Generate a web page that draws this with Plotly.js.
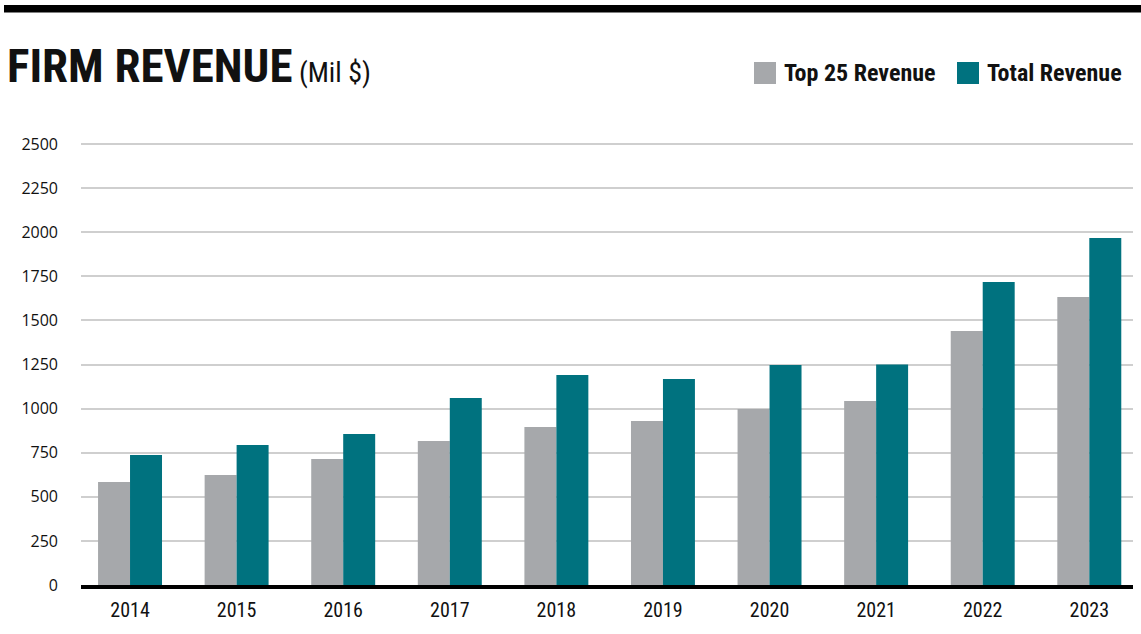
<!DOCTYPE html>
<html>
<head>
<meta charset="utf-8">
<script src="https://cdn.plot.ly/plotly-3.0.1.min.js"></script>
<style>html,body{margin:0;padding:0;background:#fff;}#chart{width:1141px;height:634px;}</style>
</head>
<body>
<div id="chart"></div>
<script>
const years = ["2014","2015","2016","2017","2018","2019","2020","2021","2022","2023"];
const top25Revenue = [584, 624, 714, 816, 896, 930, 998, 1043, 1440, 1633];
const totalRevenue = [737, 794, 856, 1060, 1190, 1168, 1247, 1250, 1718, 1967];
const seriesNames = ["Top 25 Revenue", "Total Revenue"];
const yTicks = [0, 250, 500, 750, 1000, 1250, 1500, 1750, 2000, 2250, 2500];

const GREY = "#a6a8ab";
const TEAL = "#00727f";
const W = 1141, H = 634;
const L = 81, R = 8, T = 142, B = 49;
const pw = W - L - R, ph = H - T - B;
const px = x => (x - L) / pw;
const py = y => (H - B - y) / ph;
const yMax = ph * 2500 / 441;

const cond = "Roboto Condensed, Open Sans, sans-serif";

const traces = [
  {type: "bar", name: seriesNames[0], x: years, y: top25Revenue, marker: {color: GREY}, hoverinfo: "x+y"},
  {type: "bar", name: seriesNames[1], x: years, y: totalRevenue, marker: {color: TEAL}, hoverinfo: "x+y"}
];

const layout = {
  width: W, height: H,
  margin: {l: L, r: R, t: T, b: B},
  paper_bgcolor: "#fff", plot_bgcolor: "#fff",
  barmode: "group", bargap: 0.4, bargroupgap: 0,
  showlegend: false,
  title: {
    text: '<b>FIRM REVENUE</b><span style="font-size:28px"> (Mil $)</span>',
    font: {family: cond, size: 47, color: "#111"},
    xref: "container", yref: "container",
    x: 7 / W, xanchor: "left",
    y: 1 - 66 / H, yanchor: "middle"
  },
  xaxis: {
    type: "category",
    range: [-0.46, 9.41],
    showline: true, linecolor: "#000", linewidth: 4,
    showgrid: false, zeroline: false,
    ticks: "", ticklabelstandoff: 4,
    tickfont: {family: cond, size: 20, color: "#111"},
    fixedrange: true
  },
  yaxis: {
    range: [0, yMax],
    tickvals: yTicks,
    ticktext: yTicks.map(String),
    showgrid: true, gridcolor: "#cfcfcf", gridwidth: 2,
    zeroline: false, showline: false,
    ticks: "", ticklabelstandoff: 22,
    tickfont: {family: "Open Sans, sans-serif", size: 16, color: "#111"},
    fixedrange: true
  },
  shapes: [
    {type: "rect", xref: "paper", yref: "paper", x0: px(4), x1: px(1141), y0: py(5), y1: py(12.5), fillcolor: "#000", line: {width: 0}},
    {type: "rect", xref: "paper", yref: "paper", x0: px(754), x1: px(776), y0: py(62), y1: py(84), fillcolor: GREY, line: {width: 0}},
    {type: "rect", xref: "paper", yref: "paper", x0: px(957), x1: px(979), y0: py(62), y1: py(84), fillcolor: TEAL, line: {width: 0}}
  ],
  annotations: [
    {xref: "paper", yref: "paper", x: px(782), y: py(73), xanchor: "left", yanchor: "middle", showarrow: false,
     text: "<b>" + seriesNames[0] + "</b>", font: {family: cond, size: 24, color: "#111"}},
    {xref: "paper", yref: "paper", x: px(985), y: py(73), xanchor: "left", yanchor: "middle", showarrow: false,
     text: "<b>" + seriesNames[1] + "</b>", font: {family: cond, size: 24, color: "#111"}}
  ]
};

Plotly.newPlot("chart", traces, layout, {displayModeBar: false, staticPlot: true});
</script>
</body>
</html>
